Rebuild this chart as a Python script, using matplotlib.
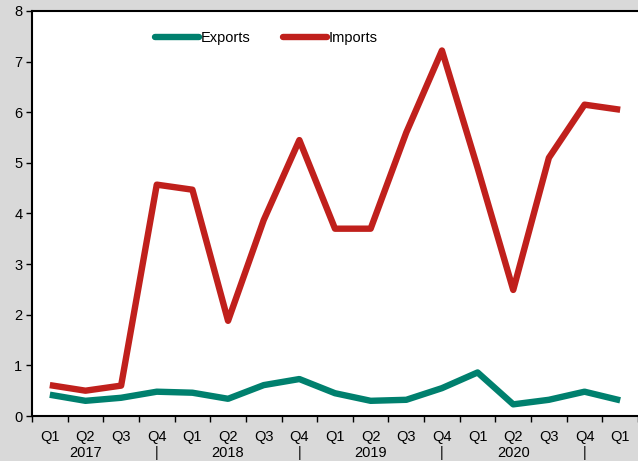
import matplotlib
matplotlib.use("Agg")
import matplotlib.pyplot as plt

quarters = ["Q1", "Q2", "Q3", "Q4"] * 4 + ["Q1"]
years = ["", "2017", "", "|", "", "2018", "", "|", "", "2019", "", "|", "", "2020", "", "|", ""]
exports = [0.42, 0.30, 0.36, 0.48, 0.46, 0.34, 0.61, 0.73, 0.45, 0.30, 0.32, 0.55, 0.86, 0.23, 0.32, 0.48, 0.31]
imports = [0.61, 0.50, 0.60, 4.57, 4.47, 1.88, 3.87, 5.45, 3.70, 3.70, 5.60, 7.22, 4.90, 2.49, 5.10, 6.15, 6.05]

plt.rcParams['font.family'] = ['Liberation Sans', 'DejaVu Sans']

fig = plt.figure(figsize=(6.38, 4.61), dpi=100, facecolor='#d9d9d9')
ax = fig.add_axes([32/638, 1-416/461, 1-32/638, (416-11)/461])
ax.set_facecolor('white')

x = list(range(len(quarters)))
ax.plot(x, exports, color='#00806e', lw=4.6, solid_capstyle='butt', solid_joinstyle='round', label='Exports')
ax.plot(x, imports, color='#c0201c', lw=4.6, solid_capstyle='butt', solid_joinstyle='round', label='Imports')

ax.set_xlim(-0.41, 16.30)
ax.set_ylim(0, 8)
ax.set_yticks(range(0, 9))
ax.tick_params(axis='y', direction='out', length=4, width=1, pad=3, labelsize=10.5, color='black')
ax.set_xticks(x)
ax.set_xticklabels([f"{q}\n{y}" for q, y in zip(quarters, years)], fontsize=10.5)
ax.tick_params(axis='x', which='major', length=0, pad=10)
ax.set_xticks([i + 0.5 for i in range(-1, len(quarters))], minor=True)
ax.tick_params(axis='x', which='minor', direction='out', length=4, width=1)

for s in ['left', 'bottom', 'top']:
    ax.spines[s].set_linewidth(1.5)
ax.spines['right'].set_visible(False)

leg = ax.legend(loc='center left', bbox_to_anchor=((155-32)/606, (416-38)/405), ncol=2,
                frameon=False, fontsize=10.5, handlelength=3.0, handletextpad=0.15,
                columnspacing=2.2, borderpad=0, borderaxespad=0)
for h in leg.get_lines():
    h.set_solid_capstyle('round')

fig.savefig('out.png', dpi=100, facecolor=fig.get_facecolor())
